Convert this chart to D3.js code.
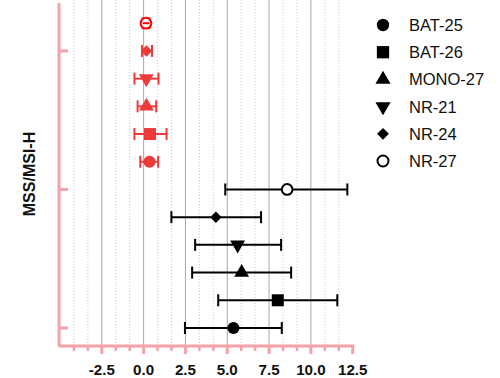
<!DOCTYPE html>
<html>
<head>
<meta charset="utf-8">
<script src="https://cdn.jsdelivr.net/npm/d3@7"></script>
<style>
  html, body { margin: 0; padding: 0; background: #fff; }
  svg { display: block; }
</style>
</head>
<body>
<svg id="chart" width="500" height="378"></svg>
<script>
// ---- data ----
const markers = ["BAT-25", "BAT-26", "MONO-27", "NR-21", "NR-24", "NR-27"];
const groups = ["MSS", "MSI-H"];
const mssMean = [5.37, 8.02, 5.86, 5.62, 4.32, 8.58];
const mssLow  = [2.47, 4.46, 2.90, 3.08, 1.66, 4.88];
const mssHigh = [8.26, 11.58, 8.82, 8.22, 7.02, 12.18];
const msiMean = [0.35, 0.38, 0.17, 0.16, 0.17, 0.14];
const msiLow  = [-0.20, -0.55, -0.36, -0.55, -0.10, -0.06];
const msiHigh = [0.87, 1.37, 0.75, 0.89, 0.50, 0.34];
const xTicks = [-2.5, 0.0, 2.5, 5.0, 7.5, 10.0, 12.5];
const xMinor = d3.range(-5, 12.5 + 1e-9, 2.5 / 3);
const yTicks = [0, 5, 10];
const axisTitle = "MSS/MSI-H";

// ---- layout ----
const svg = d3.select("#chart");
const pink = "#f5a2a8";
const red = "#ef3a3c";
const x = d3.scaleLinear().domain([-5, 12.5]).range([60, 352.7]);
const y = d3.scaleLinear().domain([-0.65, 11.73]).range([346, 3]);

const rows = [];
markers.forEach((m, i) => rows.push({marker: m, idx: i, pos: i, mean: mssMean[i], lo: mssLow[i], hi: mssHigh[i], group: groups[0]}));
markers.forEach((m, i) => rows.push({marker: m, idx: i, pos: 6 + i, mean: msiMean[i], lo: msiLow[i], hi: msiHigh[i], group: groups[1]}));

const plotTop = 0, plotBottom = 346;
const isMajor = v => xTicks.some(t => Math.abs(t - v) < 1e-6);
svg.append("g").selectAll("line")
  .data(xMinor.filter(v => !isMajor(v) && v > -5 + 1e-6))
  .join("line")
  .attr("x1", d => x(d)).attr("x2", d => x(d))
  .attr("y1", plotTop).attr("y2", plotBottom)
  .attr("stroke", "#c8c8c8").attr("stroke-width", 1)
  .attr("stroke-dasharray", "1,2");
svg.append("g").selectAll("line")
  .data(xTicks.filter(v => v < 12.5))
  .join("line")
  .attr("x1", d => x(d)).attr("x2", d => x(d))
  .attr("y1", plotTop).attr("y2", plotBottom)
  .attr("stroke", "#a8a8a8").attr("stroke-width", 1);

function shapePath(idx, size) {
  const s = size || 1;
  switch (idx) {
    case 0: return d3.symbol(d3.symbolCircle, 115 * s)();
    case 1: return d3.symbol(d3.symbolSquare, 144 * s)();
    case 2: return d3.symbol(d3.symbolTriangle, 95 * s)();
    case 3: return d3.symbol(d3.symbolTriangle, 95 * s)();
    case 4: return d3.symbol(d3.symbolSquare, 66 * s)();
    case 5: return d3.symbol(d3.symbolCircle, 90 * s)();
  }
}
function shapeRotate(idx) {
  if (idx === 3) return " rotate(180)";
  if (idx === 4) return " rotate(45)";
  return "";
}

const gPts = svg.append("g");
rows.forEach(r => {
  const col = r.group === "MSS" ? "#000" : red;
  const yy = y(r.pos);
  const g = gPts.append("g");
  g.append("line").attr("x1", x(r.lo)).attr("x2", x(r.hi)).attr("y1", yy).attr("y2", yy)
    .attr("stroke", col).attr("stroke-width", 2);
  [r.lo, r.hi].forEach(v => {
    g.append("line").attr("x1", x(v)).attr("x2", x(v)).attr("y1", yy - 6).attr("y2", yy + 6)
      .attr("stroke", col).attr("stroke-width", 2);
  });
  const open = r.idx === 5;
  g.append("path")
    .attr("d", shapePath(r.idx))
    .attr("transform", `translate(${x(r.mean)},${yy})` + shapeRotate(r.idx))
    .attr("fill", open ? "#fff" : col)
    .attr("stroke", open ? (r.group === "MSS" ? "#000" : "#ff0000") : "none")
    .attr("stroke-width", 2);
  if (open && r.group !== "MSS") {
    g.append("line").attr("x1", x(r.lo)).attr("x2", x(r.hi)).attr("y1", yy).attr("y2", yy)
      .attr("stroke", "#ff0000").attr("stroke-width", 2);
  }
});

// x axis
const xAxisG = svg.append("g").attr("transform", `translate(0,${plotBottom})`);
xAxisG.append("line").attr("x1", x(-5) - 1.5).attr("x2", x(12.5) + 1.5).attr("y1", 0).attr("y2", 0)
  .attr("stroke", pink).attr("stroke-width", 3);
xAxisG.append("g").selectAll("line").data(xMinor.filter(v => v > -5 + 1e-6)).join("line")
  .attr("x1", d => x(d)).attr("x2", d => x(d)).attr("y1", 0)
  .attr("y2", d => isMajor(d) ? 8 : 5)
  .attr("stroke", pink).attr("stroke-width", d => isMajor(d) ? 3 : 2.5);
xAxisG.append("g").selectAll("text").data(xTicks).join("text")
  .attr("transform", d => `translate(${x(d)},29) scale(1.08,1)`)
  .attr("text-anchor", "middle")
  .attr("font-family", "Liberation Sans, Arial, sans-serif")
  .attr("font-weight", "bold").attr("font-size", 14)
  .attr("fill", "#111")
  .text(d => d.toFixed(1));

// y axis
const yAxisG = svg.append("g").attr("transform", `translate(${x(-5) - 1},0)`);
yAxisG.append("line").attr("x1", 0).attr("x2", 0).attr("y1", 3).attr("y2", plotBottom)
  .attr("stroke", pink).attr("stroke-width", 3);
yAxisG.append("g").selectAll("line").data(yTicks).join("line")
  .attr("x1", 0).attr("x2", 9).attr("y1", d => y(d)).attr("y2", d => y(d))
  .attr("stroke", pink).attr("stroke-width", 3);

svg.append("text")
  .attr("transform", "translate(35,174) rotate(-90)")
  .attr("text-anchor", "middle")
  .attr("font-family", "Liberation Sans, Arial, sans-serif")
  .attr("font-weight", "bold").attr("font-size", 16)
  .attr("fill", "#111")
  .text(axisTitle);

// legend
const lg = svg.append("g");
markers.forEach((m, i) => {
  const ly = 25 + i * 27.2;
  lg.append("path")
    .attr("d", shapePath(i, 1.05))
    .attr("transform", `translate(383,${ly})` + shapeRotate(i))
    .attr("fill", i === 5 ? "#fff" : "#000")
    .attr("stroke", i === 5 ? "#000" : "none").attr("stroke-width", 2);
  lg.append("text").attr("x", 409).attr("y", ly + 6)
    .attr("font-family", "Liberation Sans, Arial, sans-serif")
    .attr("font-size", 16.5).attr("fill", "#111")
    .text(m);
});
</script>
</body>
</html>
